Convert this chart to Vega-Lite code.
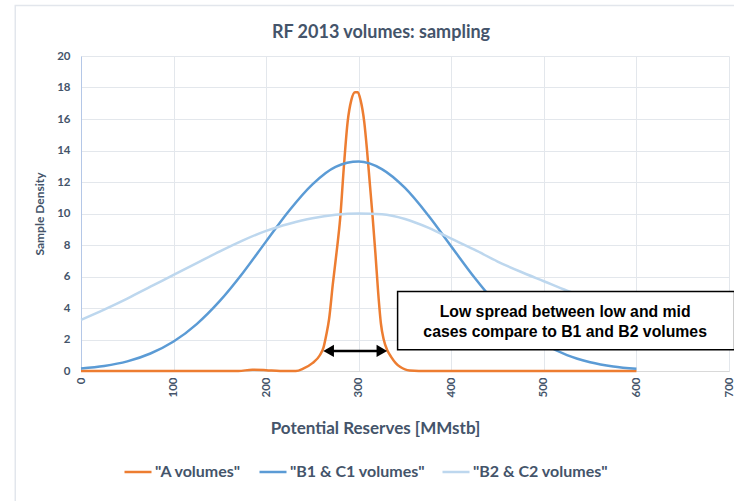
{
  "$schema": "https://vega.github.io/schema/vega-lite/v6.json",
  "width": 648,
  "height": 315,
  "autosize": "none",
  "padding": {"left": 81, "top": 56, "right": 5, "bottom": 130},
  "background": "white",
  "title": {
    "text": "RF 2013 volumes: sampling",
    "font": "Lato",
    "fontSize": 18,
    "fontWeight": "bold",
    "color": "#44546A",
    "anchor": "middle",
    "dx": -24,
    "offset": -37
  },
  "config": {
    "view": {"stroke": null},
    "axis": {
      "labelFont": "Lato",
      "labelFontWeight": "bold",
      "labelColor": "#44546A",
      "titleFont": "Lato",
      "titleFontWeight": "bold",
      "titleColor": "#44546A",
      "gridColor": "#E3E7EC",
      "gridWidth": 1,
      "ticks": false,
      "labelOverlap": false
    }
  },
  "encoding": {
    "x": {
      "field": "x",
      "type": "quantitative",
      "scale": {"domain": [0, 700], "nice": false},
      "axis": {
        "values": [0, 100, 200, 300, 400, 500, 600, 700],
        "labelAngle": -90,
        "labelFontSize": 11.5,
        "labelPadding": 6,
        "domain": true,
        "domainColor": "#D9D9D9",
        "title": "Potential Reserves [MMstb]",
        "titleFontSize": 17,
        "titleX": 294,
        "titleY": 57,
        "titleBaseline": "middle"
      }
    },
    "y": {
      "field": "y",
      "type": "quantitative",
      "scale": {"domain": [0, 20], "nice": false},
      "axis": {
        "values": [0, 2, 4, 6, 8, 10, 12, 14, 16, 18, 20],
        "labelFontSize": 11.5,
        "labelPadding": 11,
        "domain": true,
        "domainColor": "#B4C7E7",
        "title": "Sample Density",
        "titleFontSize": 12,
        "titlePadding": 10
      }
    }
  },
  "layer": [
    {
      "data": {"values": [{"x": -71, "x2": 820, "y": 23.2, "y2": -12}]},
      "mark": {"type": "rect", "fill": null, "stroke": "#E2E6EC", "strokeWidth": 1.5, "clip": false},
      "encoding": {
        "x2": {"field": "x2"},
        "y2": {"field": "y2"}
      }
    },
    {
      "data": {
        "values": [
          {"x": 0, "y": 0, "series": "\"A volumes\""},
          {"x": 100, "y": 0, "series": "\"A volumes\""},
          {"x": 170, "y": 0, "series": "\"A volumes\""},
          {"x": 185, "y": 0.08, "series": "\"A volumes\""},
          {"x": 200, "y": 0.05, "series": "\"A volumes\""},
          {"x": 215, "y": 0, "series": "\"A volumes\""},
          {"x": 232, "y": 0, "series": "\"A volumes\""},
          {"x": 240, "y": 0.15, "series": "\"A volumes\""},
          {"x": 250, "y": 0.5, "series": "\"A volumes\""},
          {"x": 258, "y": 1.0, "series": "\"A volumes\""},
          {"x": 262, "y": 1.5, "series": "\"A volumes\""},
          {"x": 265, "y": 2.3, "series": "\"A volumes\""},
          {"x": 268, "y": 3.3, "series": "\"A volumes\""},
          {"x": 272, "y": 5.5, "series": "\"A volumes\""},
          {"x": 276, "y": 7.5, "series": "\"A volumes\""},
          {"x": 280, "y": 9.7, "series": "\"A volumes\""},
          {"x": 284, "y": 13.0, "series": "\"A volumes\""},
          {"x": 288, "y": 15.8, "series": "\"A volumes\""},
          {"x": 292, "y": 17.2, "series": "\"A volumes\""},
          {"x": 296, "y": 17.7, "series": "\"A volumes\""},
          {"x": 299, "y": 17.7, "series": "\"A volumes\""},
          {"x": 302, "y": 17.2, "series": "\"A volumes\""},
          {"x": 306, "y": 15.8, "series": "\"A volumes\""},
          {"x": 309, "y": 14.0, "series": "\"A volumes\""},
          {"x": 312, "y": 11.9, "series": "\"A volumes\""},
          {"x": 315, "y": 9.8, "series": "\"A volumes\""},
          {"x": 318, "y": 7.5, "series": "\"A volumes\""},
          {"x": 321, "y": 5.0, "series": "\"A volumes\""},
          {"x": 324, "y": 3.0, "series": "\"A volumes\""},
          {"x": 327, "y": 2.0, "series": "\"A volumes\""},
          {"x": 331, "y": 1.3, "series": "\"A volumes\""},
          {"x": 335, "y": 0.9, "series": "\"A volumes\""},
          {"x": 340, "y": 0.5, "series": "\"A volumes\""},
          {"x": 345, "y": 0.25, "series": "\"A volumes\""},
          {"x": 350, "y": 0.1, "series": "\"A volumes\""},
          {"x": 355, "y": 0.03, "series": "\"A volumes\""},
          {"x": 365, "y": 0, "series": "\"A volumes\""},
          {"x": 400, "y": 0, "series": "\"A volumes\""},
          {"x": 500, "y": 0, "series": "\"A volumes\""},
          {"x": 600, "y": 0, "series": "\"A volumes\""},
          {"x": 0, "y": 0.16, "series": "\"B1 & C1 volumes\""},
          {"x": 25, "y": 0.32, "series": "\"B1 & C1 volumes\""},
          {"x": 50, "y": 0.61, "series": "\"B1 & C1 volumes\""},
          {"x": 75, "y": 1.11, "series": "\"B1 & C1 volumes\""},
          {"x": 100, "y": 1.87, "series": "\"B1 & C1 volumes\""},
          {"x": 125, "y": 2.98, "series": "\"B1 & C1 volumes\""},
          {"x": 150, "y": 4.45, "series": "\"B1 & C1 volumes\""},
          {"x": 175, "y": 6.24, "series": "\"B1 & C1 volumes\""},
          {"x": 200, "y": 8.23, "series": "\"B1 & C1 volumes\""},
          {"x": 225, "y": 10.19, "series": "\"B1 & C1 volumes\""},
          {"x": 250, "y": 11.85, "series": "\"B1 & C1 volumes\""},
          {"x": 275, "y": 12.96, "series": "\"B1 & C1 volumes\""},
          {"x": 300, "y": 13.3, "series": "\"B1 & C1 volumes\""},
          {"x": 325, "y": 12.82, "series": "\"B1 & C1 volumes\""},
          {"x": 350, "y": 11.62, "series": "\"B1 & C1 volumes\""},
          {"x": 375, "y": 9.89, "series": "\"B1 & C1 volumes\""},
          {"x": 400, "y": 7.91, "series": "\"B1 & C1 volumes\""},
          {"x": 425, "y": 5.94, "series": "\"B1 & C1 volumes\""},
          {"x": 450, "y": 4.19, "series": "\"B1 & C1 volumes\""},
          {"x": 475, "y": 2.78, "series": "\"B1 & C1 volumes\""},
          {"x": 500, "y": 1.73, "series": "\"B1 & C1 volumes\""},
          {"x": 525, "y": 1.01, "series": "\"B1 & C1 volumes\""},
          {"x": 550, "y": 0.56, "series": "\"B1 & C1 volumes\""},
          {"x": 575, "y": 0.29, "series": "\"B1 & C1 volumes\""},
          {"x": 600, "y": 0.14, "series": "\"B1 & C1 volumes\""},
          {"x": 0, "y": 3.25, "series": "\"B2 & C2 volumes\""},
          {"x": 25, "y": 3.9, "series": "\"B2 & C2 volumes\""},
          {"x": 50, "y": 4.6, "series": "\"B2 & C2 volumes\""},
          {"x": 75, "y": 5.35, "series": "\"B2 & C2 volumes\""},
          {"x": 100, "y": 6.1, "series": "\"B2 & C2 volumes\""},
          {"x": 125, "y": 6.85, "series": "\"B2 & C2 volumes\""},
          {"x": 150, "y": 7.6, "series": "\"B2 & C2 volumes\""},
          {"x": 175, "y": 8.3, "series": "\"B2 & C2 volumes\""},
          {"x": 200, "y": 8.9, "series": "\"B2 & C2 volumes\""},
          {"x": 225, "y": 9.35, "series": "\"B2 & C2 volumes\""},
          {"x": 250, "y": 9.7, "series": "\"B2 & C2 volumes\""},
          {"x": 275, "y": 9.92, "series": "\"B2 & C2 volumes\""},
          {"x": 300, "y": 10.0, "series": "\"B2 & C2 volumes\""},
          {"x": 325, "y": 9.95, "series": "\"B2 & C2 volumes\""},
          {"x": 350, "y": 9.65, "series": "\"B2 & C2 volumes\""},
          {"x": 375, "y": 9.1, "series": "\"B2 & C2 volumes\""},
          {"x": 400, "y": 8.4, "series": "\"B2 & C2 volumes\""},
          {"x": 425, "y": 7.7, "series": "\"B2 & C2 volumes\""},
          {"x": 450, "y": 6.95, "series": "\"B2 & C2 volumes\""},
          {"x": 475, "y": 6.3, "series": "\"B2 & C2 volumes\""},
          {"x": 500, "y": 5.7, "series": "\"B2 & C2 volumes\""},
          {"x": 525, "y": 5.1, "series": "\"B2 & C2 volumes\""},
          {"x": 550, "y": 4.6, "series": "\"B2 & C2 volumes\""},
          {"x": 575, "y": 4.0, "series": "\"B2 & C2 volumes\""},
          {"x": 600, "y": 3.5, "series": "\"B2 & C2 volumes\""}
        ]
      },
      "mark": {"type": "line", "interpolate": "monotone"},
      "encoding": {
        "color": {
          "field": "series",
          "type": "nominal",
          "scale": {
            "domain": ["\"A volumes\"", "\"B1 & C1 volumes\"", "\"B2 & C2 volumes\""],
            "range": ["#ED7D31", "#5B9BD5", "#BDD7EE"]
          },
          "legend": {
            "orient": "none",
            "direction": "horizontal",
            "legendX": 42,
            "legendY": 401,
            "title": null,
            "symbolType": "stroke",
            "symbolSize": 729,
            "symbolStrokeWidth": 3,
            "labelFont": "Lato",
            "labelFontWeight": "bold",
            "labelFontSize": 16,
            "labelColor": "#44546A",
            "labelOffset": 2,
            "columnPadding": 12
          }
        },
        "strokeWidth": {
          "field": "series",
          "type": "nominal",
          "scale": {
            "domain": ["\"A volumes\"", "\"B1 & C1 volumes\"", "\"B2 & C2 volumes\""],
            "range": [2.5, 2.5, 4]
          },
          "legend": null
        }
      }
    },
    {
      "data": {"values": [{"x": 342, "x2": 706, "y": 1.35, "y2": 5.05}]},
      "mark": {"type": "rect", "fill": "white", "stroke": "black", "strokeWidth": 1.5},
      "encoding": {
        "x2": {"field": "x2"},
        "y2": {"field": "y2"}
      }
    },
    {
      "data": {
        "values": [
          {"x": 523, "y": 3.75, "label": "Low spread between low and mid"},
          {"x": 523, "y": 2.48, "label": "cases compare to B1 and B2 volumes"}
        ]
      },
      "mark": {"type": "text", "font": "Liberation Sans", "fontWeight": "bold", "fontSize": 15.8, "color": "black", "align": "center", "baseline": "middle"},
      "encoding": {
        "text": {"field": "label"}
      }
    },
    {
      "data": {"values": [{"x": 266, "x2": 326, "y": 1.27}]},
      "mark": {"type": "rule", "color": "black", "strokeWidth": 2.5},
      "encoding": {
        "x2": {"field": "x2"}
      }
    },
    {
      "data": {
        "values": [
          {"x": 267.5, "y": 1.27, "head": "triangle-left"},
          {"x": 325, "y": 1.27, "head": "triangle-right"}
        ]
      },
      "mark": {"type": "point", "filled": true, "color": "black", "size": 150, "opacity": 1},
      "encoding": {
        "shape": {"field": "head", "type": "nominal", "scale": {"domain": ["triangle-left", "triangle-right"], "range": ["triangle-left", "triangle-right"]}, "legend": null}
      }
    }
  ]
}
